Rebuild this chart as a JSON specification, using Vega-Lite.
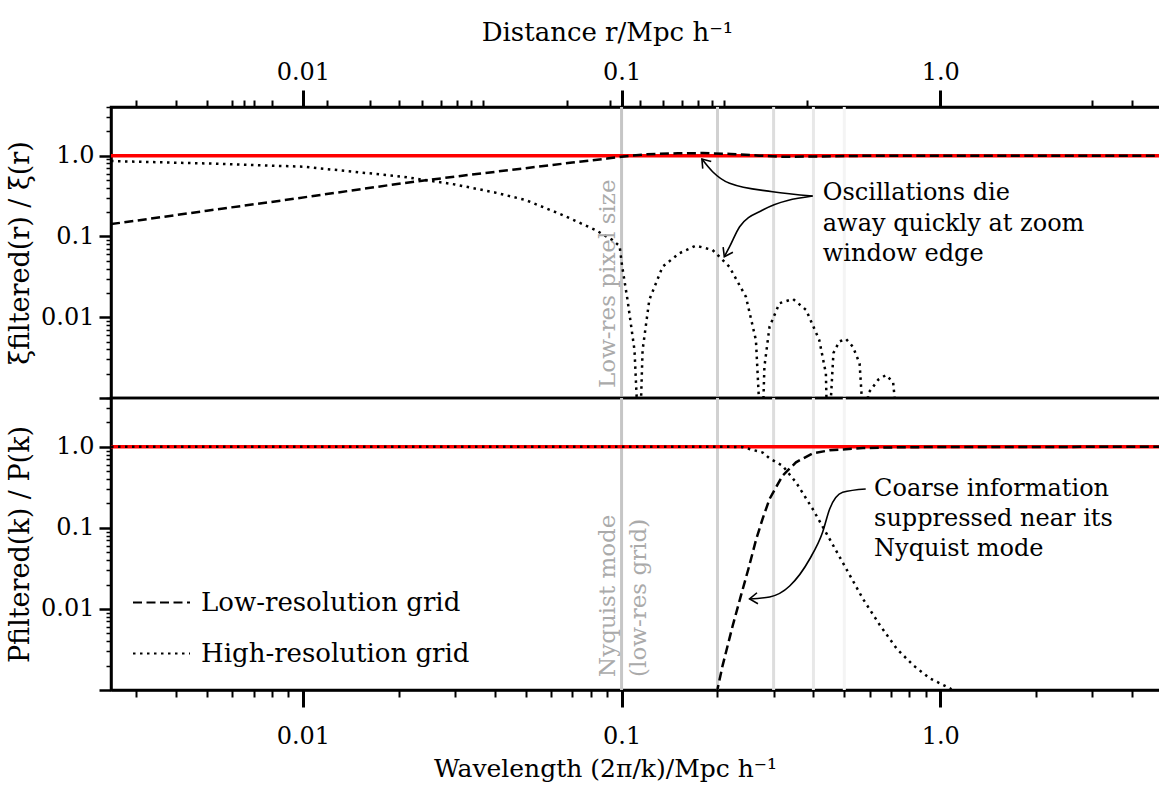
{
  "$schema": "https://vega.github.io/schema/vega-lite/v6.json",
  "padding": {"left": 5, "top": 17, "right": 0, "bottom": 0},
  "autosize": {"type": "pad"},
  "spacing": 0,
  "bounds": "flush",
  "config": {
    "font": "DejaVu Serif",
    "view": {"stroke": "black", "strokeWidth": 2.5},
    "axis": {
      "domainColor": "black", "domainWidth": 2.5, "tickColor": "black",
      "labelColor": "black", "titleColor": "black", "grid": false,
      "labelFontSize": 24, "titleFontSize": 25, "titleFontWeight": "normal",
      "labelFlush": false, "labelOverlap": false, "labelBound": false
    },
    "text": {"font": "DejaVu Serif"},
    "legend": {"labelFont": "DejaVu Serif"}
  },
  "datasets": {
    "vlines": [{"x": 0.1}, {"x": 0.2}, {"x": 0.3}, {"x": 0.4}, {"x": 0.5}],
    "unity": [{"y": 1}],
    "xi": [
      {"grid": "Low-resolution grid", "x": 0.0025, "y": 0.142},
      {"grid": "Low-resolution grid", "x": 0.005, "y": 0.208},
      {"grid": "Low-resolution grid", "x": 0.00878, "y": 0.282},
      {"grid": "Low-resolution grid", "x": 0.0204, "y": 0.454},
      {"grid": "Low-resolution grid", "x": 0.03, "y": 0.55},
      {"grid": "Low-resolution grid", "x": 0.05, "y": 0.70},
      {"grid": "Low-resolution grid", "x": 0.07, "y": 0.82},
      {"grid": "Low-resolution grid", "x": 0.09, "y": 0.92},
      {"grid": "Low-resolution grid", "x": 0.1, "y": 0.97},
      {"grid": "Low-resolution grid", "x": 0.12, "y": 1.04},
      {"grid": "Low-resolution grid", "x": 0.15, "y": 1.07},
      {"grid": "Low-resolution grid", "x": 0.18, "y": 1.075},
      {"grid": "Low-resolution grid", "x": 0.22, "y": 1.05},
      {"grid": "Low-resolution grid", "x": 0.27, "y": 1.0},
      {"grid": "Low-resolution grid", "x": 0.32, "y": 0.97},
      {"grid": "Low-resolution grid", "x": 0.4, "y": 0.975},
      {"grid": "Low-resolution grid", "x": 0.5, "y": 0.99},
      {"grid": "Low-resolution grid", "x": 0.7, "y": 1.0},
      {"grid": "Low-resolution grid", "x": 5, "y": 1.0},
      {"grid": "High-resolution grid", "x": 0.0025, "y": 0.857},
      {"grid": "High-resolution grid", "x": 0.005, "y": 0.80},
      {"grid": "High-resolution grid", "x": 0.01, "y": 0.73},
      {"grid": "High-resolution grid", "x": 0.0205, "y": 0.55},
      {"grid": "High-resolution grid", "x": 0.03, "y": 0.44},
      {"grid": "High-resolution grid", "x": 0.04, "y": 0.35},
      {"grid": "High-resolution grid", "x": 0.05, "y": 0.282},
      {"grid": "High-resolution grid", "x": 0.0653, "y": 0.184},
      {"grid": "High-resolution grid", "x": 0.0829, "y": 0.12},
      {"grid": "High-resolution grid", "x": 0.0937, "y": 0.09},
      {"grid": "High-resolution grid", "x": 0.0986, "y": 0.076},
      {"grid": "High-resolution grid", "x": 0.1004, "y": 0.043},
      {"grid": "High-resolution grid", "x": 0.1044, "y": 0.0164},
      {"grid": "High-resolution grid", "x": 0.1098, "y": 0.0039},
      {"grid": "High-resolution grid", "x": 0.1137, "y": 0.0002},
      {"grid": "High-resolution grid", "x": 0.1164, "y": 0.0039},
      {"grid": "High-resolution grid", "x": 0.1222, "y": 0.0164},
      {"grid": "High-resolution grid", "x": 0.1345, "y": 0.0422},
      {"grid": "High-resolution grid", "x": 0.1518, "y": 0.0619},
      {"grid": "High-resolution grid", "x": 0.1711, "y": 0.0769},
      {"grid": "High-resolution grid", "x": 0.193, "y": 0.068},
      {"grid": "High-resolution grid", "x": 0.2178, "y": 0.0422},
      {"grid": "High-resolution grid", "x": 0.2456, "y": 0.0179},
      {"grid": "High-resolution grid", "x": 0.264, "y": 0.0052},
      {"grid": "High-resolution grid", "x": 0.2753, "y": 0.0002},
      {"grid": "High-resolution grid", "x": 0.2807, "y": 0.00244},
      {"grid": "High-resolution grid", "x": 0.2913, "y": 0.00763},
      {"grid": "High-resolution grid", "x": 0.3128, "y": 0.0149},
      {"grid": "High-resolution grid", "x": 0.3451, "y": 0.0168},
      {"grid": "High-resolution grid", "x": 0.3794, "y": 0.0123},
      {"grid": "High-resolution grid", "x": 0.4173, "y": 0.0052},
      {"grid": "High-resolution grid", "x": 0.4377, "y": 0.00201},
      {"grid": "High-resolution grid", "x": 0.4436, "y": 0.0002},
      {"grid": "High-resolution grid", "x": 0.4622, "y": 0.0036},
      {"grid": "High-resolution grid", "x": 0.4822, "y": 0.005},
      {"grid": "High-resolution grid", "x": 0.5058, "y": 0.0054},
      {"grid": "High-resolution grid", "x": 0.5322, "y": 0.0043},
      {"grid": "High-resolution grid", "x": 0.5584, "y": 0.00267},
      {"grid": "High-resolution grid", "x": 0.5822, "y": 0.0002},
      {"grid": "High-resolution grid", "x": 0.594, "y": 0.00114},
      {"grid": "High-resolution grid", "x": 0.6385, "y": 0.00168},
      {"grid": "High-resolution grid", "x": 0.6748, "y": 0.00192},
      {"grid": "High-resolution grid", "x": 0.7113, "y": 0.00158},
      {"grid": "High-resolution grid", "x": 0.735, "y": 0.0004}
    ],
    "pk": [
      {"grid": "Low-resolution grid", "x": 0.1986, "y": 0.0009},
      {"grid": "Low-resolution grid", "x": 0.2075, "y": 0.002},
      {"grid": "Low-resolution grid", "x": 0.2232, "y": 0.0062},
      {"grid": "Low-resolution grid", "x": 0.2369, "y": 0.0146},
      {"grid": "Low-resolution grid", "x": 0.2505, "y": 0.032},
      {"grid": "Low-resolution grid", "x": 0.2647, "y": 0.073},
      {"grid": "Low-resolution grid", "x": 0.2772, "y": 0.13},
      {"grid": "Low-resolution grid", "x": 0.2913, "y": 0.227},
      {"grid": "Low-resolution grid", "x": 0.3199, "y": 0.44},
      {"grid": "Low-resolution grid", "x": 0.3526, "y": 0.644},
      {"grid": "Low-resolution grid", "x": 0.3979, "y": 0.831},
      {"grid": "Low-resolution grid", "x": 0.4494, "y": 0.905},
      {"grid": "Low-resolution grid", "x": 0.5728, "y": 0.966},
      {"grid": "Low-resolution grid", "x": 0.73, "y": 0.985},
      {"grid": "Low-resolution grid", "x": 1.0, "y": 0.995},
      {"grid": "Low-resolution grid", "x": 5, "y": 1.0},
      {"grid": "High-resolution grid", "x": 0.0025, "y": 1.0},
      {"grid": "High-resolution grid", "x": 0.1, "y": 1.0},
      {"grid": "High-resolution grid", "x": 0.22, "y": 1.0},
      {"grid": "High-resolution grid", "x": 0.24, "y": 0.99},
      {"grid": "High-resolution grid", "x": 0.2772, "y": 0.85},
      {"grid": "High-resolution grid", "x": 0.2913, "y": 0.72},
      {"grid": "High-resolution grid", "x": 0.3199, "y": 0.585},
      {"grid": "High-resolution grid", "x": 0.3526, "y": 0.365},
      {"grid": "High-resolution grid", "x": 0.3979, "y": 0.171},
      {"grid": "High-resolution grid", "x": 0.4494, "y": 0.0731},
      {"grid": "High-resolution grid", "x": 0.5074, "y": 0.0311},
      {"grid": "High-resolution grid", "x": 0.5728, "y": 0.0132},
      {"grid": "High-resolution grid", "x": 0.6468, "y": 0.0063},
      {"grid": "High-resolution grid", "x": 0.7302, "y": 0.00323},
      {"grid": "High-resolution grid", "x": 0.8245, "y": 0.002},
      {"grid": "High-resolution grid", "x": 0.931, "y": 0.00138},
      {"grid": "High-resolution grid", "x": 1.077, "y": 0.00104},
      {"grid": "High-resolution grid", "x": 1.12, "y": 0.0008}
    ],
    "arrowsTop": [
      {"id": "a", "x": 0.3978, "y": 0.316},
      {"id": "a", "x": 0.2979, "y": 0.3574},
      {"id": "a", "x": 0.2183, "y": 0.4542},
      {"id": "a", "x": 0.1931, "y": 0.632},
      {"id": "a", "x": 0.1787, "y": 0.908},
      {"id": "b", "x": 0.3978, "y": 0.316},
      {"id": "b", "x": 0.2772, "y": 0.2122},
      {"id": "b", "x": 0.2347, "y": 0.1318},
      {"id": "b", "x": 0.2183, "y": 0.0746},
      {"id": "b", "x": 0.2101, "y": 0.0561}
    ],
    "arrowBottom": [
      {"x": 0.5836, "y": 0.3019},
      {"x": 0.4942, "y": 0.2748},
      {"x": 0.4498, "y": 0.171},
      {"x": 0.4277, "y": 0.089},
      {"x": 0.3894, "y": 0.0413},
      {"x": 0.3369, "y": 0.0192},
      {"x": 0.2915, "y": 0.01406},
      {"x": 0.2522, "y": 0.01328}
    ]
  },
  "resolve": {
    "scale": {"strokeDash": "independent", "color": "independent"},
    "legend": {"strokeDash": "independent", "color": "independent"}
  },
  "vconcat": [
    {
      "width": 1052,
      "height": 291,
      "layer": [
        {
          "data": {"name": "vlines"},
          "mark": {"type": "rule", "strokeWidth": 3},
          "encoding": {
            "x": {
              "field": "x", "type": "quantitative",
              "scale": {"type": "log", "domain": [0.0025, 5], "nice": false},
              "axis": {
                "orient": "top",
                "title": "Distance r/Mpc h⁻¹",
                "titleFontSize": 26,
                "titlePadding": 17,
                "titleX": 496,
                "titleY": -67,
                "titleBaseline": "alphabetic",
                "titleAlign": "center",
                "labelPadding": 6,
                "values": [0.003, 0.004, 0.005, 0.006, 0.00654, 0.007, 0.008, 0.01, 0.0119, 0.0162, 0.0201, 0.0237, 0.0272, 0.0305, 0.0338, 0.0368, 0.0672, 0.0917, 0.1, 0.114, 0.135, 0.155, 0.174, 0.192, 0.21, 0.383, 1, 3, 4],
                "labelExpr": "datum.value == 1 ? '1.0' : (datum.value == 0.1 ? '0.1' : (datum.value == 0.01 ? '0.01' : ''))",
                "tickSize": {"condition": {"test": "datum.value == 0.01 || datum.value == 0.1 || datum.value == 1", "value": 17}, "value": 7},
                "tickWidth": {"condition": {"test": "datum.value == 0.01 || datum.value == 0.1 || datum.value == 1", "value": 3}, "value": 2}
              }
            },
            "color": {"field": "x", "type": "quantitative", "scale": {"domain": [0.1, 0.5], "range": ["#c6c6c6", "#f4f4f4"]}, "legend": null}
          }
        },
        {
          "data": {"name": "unity"},
          "mark": {"type": "rule", "color": "#ff0000", "strokeWidth": 3.5},
          "encoding": {
            "y": {
              "field": "y", "type": "quantitative",
              "scale": {"type": "log", "domain": [0.001, 4], "nice": false},
              "axis": {
                "title": "ξfiltered(r) / ξ(r)",
                "titleFontSize": 27,
                "titlePadding": 6,
                "labelPadding": 5,
                "values": [0.001, 0.002, 0.003, 0.004, 0.005, 0.006, 0.007, 0.008, 0.009, 0.01, 0.02, 0.03, 0.04, 0.05, 0.06, 0.07, 0.08, 0.09, 0.1, 0.2, 0.3, 0.4, 0.5, 0.6, 0.7, 0.8, 0.9, 1, 2, 3, 4],
                "labelExpr": "datum.value == 1 ? '1.0' : (datum.value == 0.1 ? '0.1' : (datum.value == 0.01 ? '0.01' : ''))",
                "tickSize": {"condition": {"test": "datum.value == 0.001 || datum.value == 0.01 || datum.value == 0.1 || datum.value == 1", "value": 12}, "value": 5},
                "tickWidth": {"condition": {"test": "datum.value == 0.001 || datum.value == 0.01 || datum.value == 0.1 || datum.value == 1", "value": 2.5}, "value": 1.5}
              }
            }
          }
        },
        {
          "data": {"name": "xi"},
          "mark": {"type": "line", "color": "black", "strokeWidth": 2.5, "clip": true},
          "encoding": {
            "x": {"field": "x", "type": "quantitative", "scale": {"type": "log", "domain": [0.0025, 5], "nice": false}},
            "y": {"field": "y", "type": "quantitative", "scale": {"type": "log", "domain": [0.001, 4], "nice": false}},
            "strokeDash": {
              "field": "grid", "type": "nominal",
              "scale": {"domain": ["Low-resolution grid", "High-resolution grid"], "range": [[9, 4.5], [2.5, 4.5]]},
              "legend": null
            }
          }
        },
        {
          "data": {"values": [{"x": 0.0951, "y": 0.00133, "label": "Low-res pixel size"}]},
          "mark": {"type": "text", "angle": 270, "align": "left", "baseline": "alphabetic", "fontSize": 23, "color": "#aaaaaa"},
          "encoding": {
            "x": {"field": "x", "type": "quantitative", "scale": {"type": "log", "domain": [0.0025, 5], "nice": false}},
            "y": {"field": "y", "type": "quantitative", "scale": {"type": "log", "domain": [0.001, 4], "nice": false}},
            "text": {"field": "label", "type": "nominal"}
          }
        },
        {
          "data": {"values": [{"x": 0.428, "y": 0.282, "label": ["Oscillations die", "away quickly at zoom", "window edge"]}]},
          "mark": {"type": "text", "align": "left", "baseline": "alphabetic", "fontSize": 24, "lineHeight": 30.5, "color": "black"},
          "encoding": {
            "x": {"field": "x", "type": "quantitative", "scale": {"type": "log", "domain": [0.0025, 5], "nice": false}},
            "y": {"field": "y", "type": "quantitative", "scale": {"type": "log", "domain": [0.001, 4], "nice": false}},
            "text": {"field": "label", "type": "nominal"}
          }
        },
        {
          "data": {"name": "arrowsTop"},
          "mark": {"type": "line", "color": "black", "strokeWidth": 1.6, "interpolate": "monotone"},
          "encoding": {
            "x": {"field": "x", "type": "quantitative", "scale": {"type": "log", "domain": [0.0025, 5], "nice": false}},
            "y": {"field": "y", "type": "quantitative", "scale": {"type": "log", "domain": [0.001, 4], "nice": false}},
            "detail": {"field": "id", "type": "nominal"}
          }
        },
        {
          "data": {"values": [{"x": 0.1787, "y": 0.908}]},
          "mark": {"type": "point", "shape": "M-1,-0.7L0,0L-1,0.7", "filled": false, "stroke": "black", "strokeWidth": 1.6, "size": 250, "angle": 230, "opacity": 1},
          "encoding": {
            "x": {"field": "x", "type": "quantitative", "scale": {"type": "log", "domain": [0.0025, 5], "nice": false}},
            "y": {"field": "y", "type": "quantitative", "scale": {"type": "log", "domain": [0.001, 4], "nice": false}}
          }
        },
        {
          "data": {"values": [{"x": 0.2101, "y": 0.0561}]},
          "mark": {"type": "point", "shape": "M-1,-0.7L0,0L-1,0.7", "filled": false, "stroke": "black", "strokeWidth": 1.6, "size": 250, "angle": 118, "opacity": 1},
          "encoding": {
            "x": {"field": "x", "type": "quantitative", "scale": {"type": "log", "domain": [0.0025, 5], "nice": false}},
            "y": {"field": "y", "type": "quantitative", "scale": {"type": "log", "domain": [0.001, 4], "nice": false}}
          }
        }
      ]
    },
    {
      "width": 1052,
      "height": 292,
      "layer": [
        {
          "data": {"name": "vlines"},
          "mark": {"type": "rule", "strokeWidth": 3},
          "encoding": {
            "x": {
              "field": "x", "type": "quantitative",
              "scale": {"type": "log", "domain": [0.0025, 5], "nice": false},
              "axis": {
                "orient": "bottom",
                "title": "Wavelength (2π/k)/Mpc h⁻¹",
                "titlePadding": 8,
                "titleX": 494,
                "titleY": 86,
                "titleBaseline": "alphabetic",
                "titleAlign": "center",
                "labelPadding": 17,
                "values": [0.003, 0.004, 0.005, 0.006, 0.007, 0.008, 0.009, 0.01, 0.02, 0.03, 0.04, 0.05, 0.06, 0.07, 0.08, 0.09, 0.1, 0.2, 0.3, 0.4, 0.5, 0.6, 0.7, 0.8, 0.9, 1, 2, 3, 4],
                "labelExpr": "datum.value == 1 ? '1.0' : (datum.value == 0.1 ? '0.1' : (datum.value == 0.01 ? '0.01' : ''))",
                "tickSize": {"condition": {"test": "datum.value == 0.01 || datum.value == 0.1 || datum.value == 1", "value": 17}, "value": 7},
                "tickWidth": {"condition": {"test": "datum.value == 0.01 || datum.value == 0.1 || datum.value == 1", "value": 3}, "value": 2}
              }
            },
            "color": {"field": "x", "type": "quantitative", "scale": {"domain": [0.1, 0.5], "range": ["#c6c6c6", "#f4f4f4"]}, "legend": null}
          }
        },
        {
          "data": {"name": "unity"},
          "mark": {"type": "rule", "color": "#ff0000", "strokeWidth": 3.5},
          "encoding": {
            "y": {
              "field": "y", "type": "quantitative",
              "scale": {"type": "log", "domain": [0.001, 4], "nice": false},
              "axis": {
                "title": "Pfiltered(k) / P(k)",
                "titleFontSize": 27,
                "titlePadding": 6,
                "labelPadding": 5,
                "values": [0.001, 0.002, 0.003, 0.004, 0.005, 0.006, 0.007, 0.008, 0.009, 0.01, 0.02, 0.03, 0.04, 0.05, 0.06, 0.07, 0.08, 0.09, 0.1, 0.2, 0.3, 0.4, 0.5, 0.6, 0.7, 0.8, 0.9, 1, 2, 3, 4],
                "labelExpr": "datum.value == 1 ? '1.0' : (datum.value == 0.1 ? '0.1' : (datum.value == 0.01 ? '0.01' : ''))",
                "tickSize": {"condition": {"test": "datum.value == 0.001 || datum.value == 0.01 || datum.value == 0.1 || datum.value == 1", "value": 12}, "value": 5},
                "tickWidth": {"condition": {"test": "datum.value == 0.001 || datum.value == 0.01 || datum.value == 0.1 || datum.value == 1", "value": 2.5}, "value": 1.5}
              }
            }
          }
        },
        {
          "data": {"name": "pk"},
          "mark": {"type": "line", "color": "black", "strokeWidth": 2.5, "clip": true},
          "encoding": {
            "x": {"field": "x", "type": "quantitative", "scale": {"type": "log", "domain": [0.0025, 5], "nice": false}},
            "y": {"field": "y", "type": "quantitative", "scale": {"type": "log", "domain": [0.001, 4], "nice": false}},
            "strokeDash": {
              "field": "grid", "type": "nominal",
              "scale": {"domain": ["Low-resolution grid", "High-resolution grid"], "range": [[9, 4.5], [2.5, 4.5]]},
              "legend": {
                "title": null, "orient": "none", "legendX": 21, "legendY": 175, "padding": 0,
                "symbolType": "stroke", "symbolSize": 3249, "symbolStrokeWidth": 2, "symbolStrokeColor": "black",
                "labelFontSize": 26, "labelOffset": 10, "labelLimit": 500, "rowPadding": 8, "labelColor": "black"
              }
            }
          }
        },
        {
          "data": {"values": [{"x": 0.0951, "y": 0.00145, "label": ["Nyquist mode", "(low-res grid)"]}]},
          "mark": {"type": "text", "angle": 270, "align": "left", "baseline": "alphabetic", "fontSize": 23, "lineHeight": 31, "color": "#aaaaaa"},
          "encoding": {
            "x": {"field": "x", "type": "quantitative", "scale": {"type": "log", "domain": [0.0025, 5], "nice": false}},
            "y": {"field": "y", "type": "quantitative", "scale": {"type": "log", "domain": [0.001, 4], "nice": false}},
            "text": {"field": "label", "type": "nominal"}
          }
        },
        {
          "data": {"values": [{"x": 0.62, "y": 0.249, "label": ["Coarse information", "suppressed near its", "Nyquist mode"]}]},
          "mark": {"type": "text", "align": "left", "baseline": "alphabetic", "fontSize": 24, "lineHeight": 30, "color": "black"},
          "encoding": {
            "x": {"field": "x", "type": "quantitative", "scale": {"type": "log", "domain": [0.0025, 5], "nice": false}},
            "y": {"field": "y", "type": "quantitative", "scale": {"type": "log", "domain": [0.001, 4], "nice": false}},
            "text": {"field": "label", "type": "nominal"}
          }
        },
        {
          "data": {"name": "arrowBottom"},
          "mark": {"type": "line", "color": "black", "strokeWidth": 1.6, "interpolate": "monotone"},
          "encoding": {
            "x": {"field": "x", "type": "quantitative", "scale": {"type": "log", "domain": [0.0025, 5], "nice": false}},
            "y": {"field": "y", "type": "quantitative", "scale": {"type": "log", "domain": [0.001, 4], "nice": false}}
          }
        },
        {
          "data": {"values": [{"x": 0.2522, "y": 0.01328}]},
          "mark": {"type": "point", "shape": "M-1,-0.7L0,0L-1,0.7", "filled": false, "stroke": "black", "strokeWidth": 1.6, "size": 250, "angle": 175, "opacity": 1},
          "encoding": {
            "x": {"field": "x", "type": "quantitative", "scale": {"type": "log", "domain": [0.0025, 5], "nice": false}},
            "y": {"field": "y", "type": "quantitative", "scale": {"type": "log", "domain": [0.001, 4], "nice": false}}
          }
        }
      ]
    }
  ]
}
